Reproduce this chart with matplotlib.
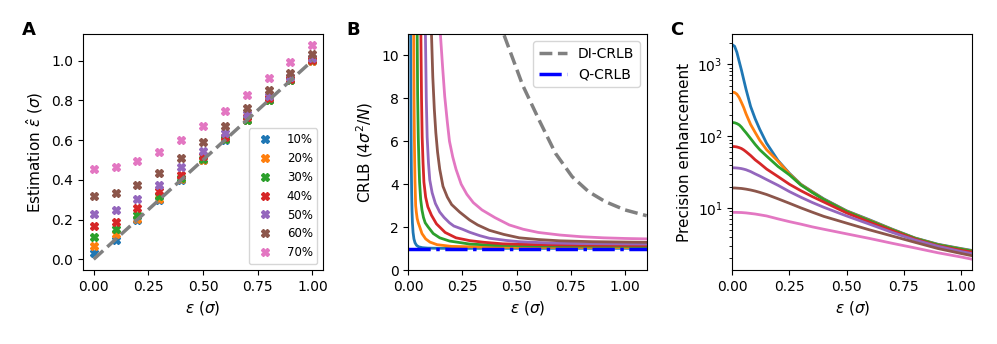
import numpy as np
import matplotlib
matplotlib.use("Agg")
import matplotlib.pyplot as plt

# ---- panel A: estimated separation for each contamination level ----
eps_true = [0.0, 0.1, 0.2, 0.3, 0.4, 0.5, 0.6, 0.7, 0.8, 0.9, 1.0]
levels = ["10%", "20%", "30%", "40%", "50%", "60%", "70%"]
est_10 = [0.03, 0.098, 0.20, 0.30, 0.40, 0.50, 0.60, 0.70, 0.80, 0.90, 1.00]
est_20 = [0.067, 0.125, 0.203, 0.303, 0.404, 0.502, 0.603, 0.701, 0.801, 0.90, 1.00]
est_30 = [0.11, 0.15, 0.224, 0.316, 0.41, 0.505, 0.604, 0.702, 0.803, 0.901, 1.001]
est_40 = [0.165, 0.19, 0.258, 0.342, 0.426, 0.518, 0.616, 0.714, 0.81, 0.908, 1.005]
est_50 = [0.23, 0.25, 0.305, 0.375, 0.463, 0.547, 0.636, 0.729, 0.823, 0.918, 1.015]
est_60 = [0.316, 0.333, 0.375, 0.434, 0.51, 0.589, 0.673, 0.763, 0.85, 0.94, 1.035]
est_70 = [0.453, 0.465, 0.493, 0.54, 0.60, 0.67, 0.746, 0.825, 0.91, 0.995, 1.08]
estimates = [est_10, est_20, est_30, est_40, est_50, est_60, est_70]

# ---- panel B: CRLB curves ----
di_x = [0.40, 0.44, 0.527, 0.603, 0.679, 0.756, 0.832, 0.908, 1.0, 1.1]
di_y = [13.5, 11.0, 8.63, 7.0, 5.44, 4.35, 3.65, 3.19, 2.8, 2.53]
q_x = [0.0, 1.1]
q_y = [1.0, 1.0]

b_x_10 = [0.009, 0.011, 0.012, 0.013, 0.014, 0.0155, 0.017, 0.019, 0.022, 0.026, 0.031, 0.038, 0.048, 0.065, 0.09, 0.15, 1.1]
b_y_10 = [14, 11, 8, 6, 4.8, 3.6, 2.8, 2.2, 1.75, 1.45, 1.27, 1.15, 1.08, 1.04, 1.02, 1.01, 1.01]
b_x_20 = [0.023, 0.025, 0.0265, 0.028, 0.0295, 0.031, 0.034, 0.037, 0.041, 0.046, 0.053, 0.063, 0.08, 0.1, 0.133, 0.2, 0.4, 1.1]
b_y_20 = [14, 11, 8, 6.2, 5.0, 4.1, 3.0, 2.7, 2.4, 2.2, 2.0, 1.7, 1.45, 1.3, 1.18, 1.1, 1.06, 1.05]
b_x_30 = [0.039, 0.041, 0.043, 0.046, 0.049, 0.052, 0.057, 0.063, 0.07, 0.078, 0.092, 0.115, 0.145, 0.19, 0.283, 0.4, 0.6, 1.1]
b_y_30 = [14, 11, 8.2, 6.2, 5.0, 4.1, 3.3, 2.8, 2.45, 2.2, 2.0, 1.7, 1.5, 1.35, 1.21, 1.15, 1.12, 1.1]
b_x_40 = [0.055, 0.058, 0.061, 0.064, 0.068, 0.072, 0.08, 0.09, 0.107, 0.13, 0.145, 0.17, 0.22, 0.283, 0.35, 0.436, 0.6, 0.8, 1.1]
b_y_40 = [14, 11, 8, 6.2, 5.0, 4.1, 3.4, 2.95, 2.55, 2.15, 2.0, 1.75, 1.5, 1.37, 1.29, 1.22, 1.18, 1.16, 1.15]
b_x_50 = [0.075, 0.079, 0.083, 0.087, 0.093, 0.099, 0.11, 0.125, 0.145, 0.165, 0.19, 0.21, 0.25, 0.283, 0.33, 0.374, 0.45, 0.512, 0.65, 0.8, 1.1]
b_y_50 = [14, 11, 8, 6.2, 5.0, 4.2, 3.6, 3.1, 2.7, 2.45, 2.2, 2.05, 1.9, 1.76, 1.6, 1.48, 1.38, 1.32, 1.26, 1.23, 1.21]
b_x_60 = [0.1, 0.107, 0.113, 0.12, 0.127, 0.135, 0.145, 0.16, 0.18, 0.2, 0.237, 0.283, 0.32, 0.374, 0.44, 0.512, 0.6, 0.7, 0.85, 1.1]
b_y_60 = [14, 11, 9, 7.5, 6.4, 5.5, 4.7, 3.9, 3.4, 3.05, 2.7, 2.33, 2.1, 1.85, 1.66, 1.5, 1.42, 1.36, 1.32, 1.29]
b_x_70 = [0.14, 0.148, 0.158, 0.168, 0.18, 0.19, 0.205, 0.22, 0.244, 0.27, 0.3, 0.34, 0.4, 0.466, 0.53, 0.6, 0.7, 0.8, 0.9, 1.0, 1.1]
b_y_70 = [12.5, 11, 9.5, 8.1, 6.9, 6.0, 5.27, 4.7, 4.0, 3.53, 3.14, 2.8, 2.44, 2.1, 1.9, 1.75, 1.63, 1.55, 1.5, 1.47, 1.45]
crlb_x = [b_x_10, b_x_20, b_x_30, b_x_40, b_x_50, b_x_60, b_x_70]
crlb_y = [b_y_10, b_y_20, b_y_30, b_y_40, b_y_50, b_y_60, b_y_70]

# ---- panel C: precision enhancement ----
c_x = [0, 0.01, 0.02, 0.03, 0.04, 0.05, 0.06, 0.08, 0.1, 0.12, 0.15, 0.2, 0.25,
       0.3, 0.35, 0.4, 0.5, 0.6, 0.7, 0.8, 0.9, 1.0, 1.05]
c_10 = [1870, 1780, 1470, 1100, 830, 610, 450, 260, 175, 125, 80, 46, 30.5,
        21.5, 17, 13.5, 9.2, 6.9, 5.1, 3.85, 3.15, 2.75, 2.58]
c_20 = [410, 405, 385, 345, 295, 250, 205, 146, 113, 88, 65, 45, 30,
        21.3, 16.8, 13.3, 9.1, 6.8, 5.05, 3.82, 3.12, 2.72, 2.55]
c_30 = [155, 154, 150, 144, 134, 122, 112, 93, 77, 65, 53, 38, 29,
        21, 16.5, 13.2, 9.0, 6.7, 5.0, 3.8, 3.1, 2.7, 2.53]
c_40 = [72, 71.8, 71, 69.5, 67.5, 64.5, 61, 54, 47, 42, 35, 27.5, 21.5,
        17.5, 14.5, 12.2, 8.6, 6.4, 4.85, 3.7, 3.0, 2.6, 2.45]
c_50 = [36.5, 36.4, 36.2, 35.9, 35.5, 34.9, 34.2, 32.3, 30, 28, 25, 20.8, 17,
        14.2, 12, 10.3, 7.8, 6.0, 4.6, 3.6, 2.95, 2.5, 2.33]
c_60 = [19.1, 19.1, 19.0, 18.9, 18.8, 18.6, 18.4, 17.9, 17.3, 16.6, 15.5, 13.5, 11.7,
        10.1, 8.8, 7.7, 6.2, 5.0, 4.1, 3.35, 2.75, 2.35, 2.18]
c_70 = [8.75, 8.75, 8.74, 8.72, 8.7, 8.65, 8.6, 8.45, 8.3, 8.1, 7.8, 7.1, 6.5,
        6.0, 5.5, 5.1, 4.4, 3.8, 3.25, 2.8, 2.4, 2.1, 1.95]
enhancement = [c_10, c_20, c_30, c_40, c_50, c_60, c_70]

colors = ["C0", "C1", "C2", "C3", "C4", "C5", "C6"]

fig = plt.figure(figsize=(9.97, 3.44), dpi=100)
W, H = 997.0, 344.0
axA = fig.add_axes([82.7 / W, 74 / H, 240.6 / W, 236 / H])
axB = fig.add_axes([408.3 / W, 74 / H, 238.4 / W, 236 / H])
axC = fig.add_axes([732.3 / W, 74 / H, 240.0 / W, 236 / H])

# A
for est, lab, col in zip(estimates, levels, colors):
    axA.plot(eps_true, est, "X", color=col, ms=6, label=lab, ls="")
axA.plot([0, 1], [0, 1], "--", color="gray", lw=2.5, zorder=3)
axA.legend(loc="lower right", fontsize=8.5)
axA.set_xlabel(r"$\epsilon$ ($\sigma$)", fontsize=11)
axA.set_ylabel(r"Estimation $\hat{\epsilon}$ ($\sigma$)", fontsize=11)
axA.set_xticks([0, 0.25, 0.5, 0.75, 1.0])

# B
for xs, ys, col in zip(crlb_x, crlb_y, colors):
    axB.plot(xs, ys, color=col, lw=2)
axB.plot(di_x, di_y, "--", color="gray", lw=2.5, label="DI-CRLB")
axB.plot(q_x, q_y, "-.", color="b", lw=2.5, label="Q-CRLB")
axB.set_xlim(0, 1.1)
axB.set_ylim(0, 11)
axB.legend(loc="upper right")
axB.set_xlabel(r"$\epsilon$ ($\sigma$)", fontsize=11)
axB.set_ylabel(r"CRLB ($4\sigma^2/N$)", fontsize=11)
axB.set_xticks([0, 0.25, 0.5, 0.75, 1.0])

# C
for ys, col in zip(enhancement, colors):
    axC.semilogy(c_x, ys, color=col, lw=2)
axC.set_xlim(0, 1.05)
axC.set_xlabel(r"$\epsilon$ ($\sigma$)", fontsize=11)
axC.set_ylabel("Precision enhancement", fontsize=11)
axC.set_xticks([0, 0.25, 0.5, 0.75, 1.0])

for x, t in [(22, "A"), (346, "B"), (670, "C")]:
    fig.text(x / W, (344 - 35) / H, t, fontsize=13, fontweight="bold")

fig.savefig("out.png", dpi=100)
